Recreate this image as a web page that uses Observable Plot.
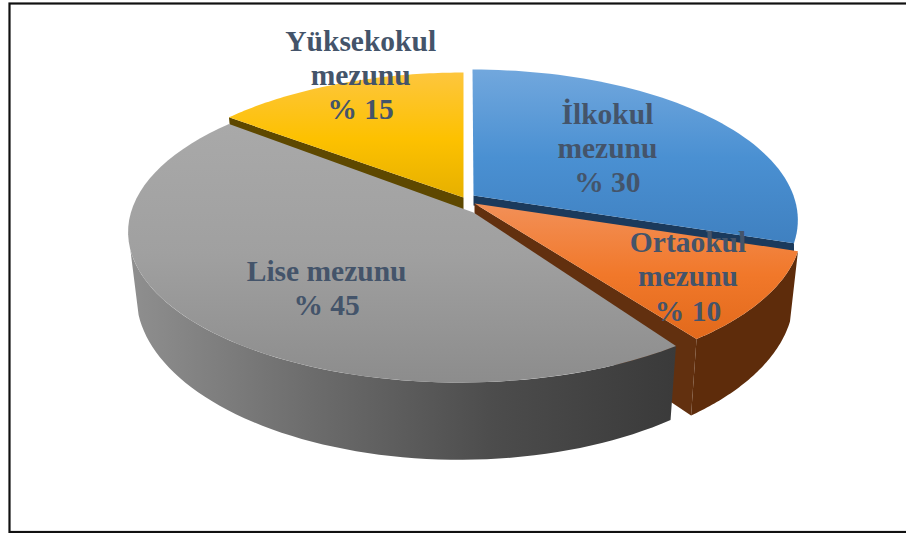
<!DOCTYPE html>
<html><head><meta charset="utf-8">
<script src="https://cdn.jsdelivr.net/npm/d3@7"></script>
<script src="https://cdn.jsdelivr.net/npm/@observablehq/plot@0.6"></script>
<style>html,body{margin:0;background:#fff}</style></head>
<body><div id="c"></div>
<script>
const categories = ["İlkokul mezunu","Ortaokul mezunu","Lise mezunu","Yüksekokul mezunu"];
const labels = ["İlkokul\nmezunu\n% 30","Ortaokul\nmezunu\n% 10","Lise mezunu\n% 45","Yüksekokul\nmezunu\n% 15"];
const shares = [30,10,45,15];

// layout of the drawing (not data)
const P = {k:0.163, A:146.5, shrinkX:0.975};
const shrinkY = [1.07,1.07,1.09,1.07];
const deg = Math.PI/180;
const arcC = [[472,195],[477,203],[459,207],[463,198]];
const apex = [[473,195],[474,203],[473,212],[463,197]];
const radius = [321,320,327,325];
const depth = [65,67,61.5,65];
const nudgeStart = [0,0,1,1.5];
const nudgeEnd = [0,-0.5,3,0];
const labelAlong = [0.48,0.52,0.449,0.622];
const labelRadius = [0.565,0.76,0.624,1.053];
const topGrad = [["#71a7dd","#4a90d2","#3f80c0"],["#f29058","#f1782a","#e0681a"],["#a9a9a9","#a0a0a0","#8c8c8c"],["#fdc63e","#fdc100","#e3ae00"]];
const gradY = [[70,245],[203,345],[122,384],[72,205]];
const cutFill = ["#1b3a5c","#62300f",null,"#5e4800"];
const wallFill = [null,"#5e2c0b","url(#wall)",null];

function pr(i,theta,r,low){
  const u=Math.sin(theta)*r, v=-Math.cos(theta)*r, w=1/(1-P.k*v);
  return low
    ? {x:arcC[i][0]+radius[i]*u*w*P.shrinkX, y:arcC[i][1]+P.A*v*w*shrinkY[i]+depth[i]}
    : {x:arcC[i][0]+radius[i]*u*w, y:arcC[i][1]+P.A*v*w};
}
const total=d3.sum(shares);
const ends=d3.cumsum(shares).map(d=>d/total*2*Math.PI);
const starts=[0,...ends.slice(0,-1)];
const arcA=starts.map((d,i)=>d+nudgeStart[i]*deg);
const arcB=ends.map((d,i)=>d+nudgeEnd[i]*deg);
const arcPts=(i,a,b,low)=>d3.range(0,61).map(j=>pr(i,a+(b-a)*j/60,1,low));
const A0=i=>({x:apex[i][0],y:apex[i][1]});
const A1=i=>({x:apex[i][0],y:apex[i][1]+depth[i]});

const faces=shares.map((_,i)=>[A0(i),...arcPts(i,arcA[i],arcB[i],false)]);
const walls=[null,
  [...arcPts(1,arcA[1],arcB[1],false),...arcPts(1,arcA[1],arcB[1],true).reverse()],
  [...arcPts(2,arcA[2],254*deg,false),...arcPts(2,arcA[2],254*deg,true).reverse()],
  null];
const cuts=[
  [A0(0),pr(0,arcB[0],1),{x:pr(0,arcB[0],1).x,y:pr(0,arcB[0],1).y+10},{x:A0(0).x,y:A0(0).y+10}],
  [A0(1),pr(1,arcB[1],1),pr(1,arcB[1],1,true),A1(1)],
  null,
  [A0(3),pr(3,arcA[3],1),pr(3,arcA[3],1,true),A1(3)]
];
const poly=(pts,fill)=>Plot.line(pts,{x:"x",y:"y",fill,stroke:"none",curve:"linear-closed"});

const defs=()=>{
  const d=d3.create("svg:defs");
  const lin=(id,x1,y1,x2,y2,stops)=>{
    const g=d.append("linearGradient").attr("id",id).attr("gradientUnits","userSpaceOnUse")
      .attr("x1",x1).attr("y1",y1).attr("x2",x2).attr("y2",y2);
    stops.forEach((c,j)=>g.append("stop").attr("offset",j/(stops.length-1)).attr("stop-color",c));
  };
  topGrad.forEach((s,i)=>lin("top"+i,0,gradY[i][0],0,gradY[i][1],s));
  lin("wall",130,0,676,0,["#8f8f8f","#6c6c6c","#4c4c4c","#3a3a3a"]);
  return d.node();
};
const order=[3,0,1,2];
const marks=[
  defs,
  Plot.frame({stroke:"#111",strokeWidth:2.2,insetLeft:9,insetTop:3,insetBottom:1.5,insetRight:-4})
];
for(const i of order){
  if(cuts[i]) marks.push(poly(cuts[i],cutFill[i]));
  if(walls[i]) marks.push(poly(walls[i],wallFill[i]));
  marks.push(poly(faces[i],"url(#top"+i+")"));
}
const labelData=labels.map((text,i)=>{
  const p=pr(i,starts[i]+(ends[i]-starts[i])*labelAlong[i],labelRadius[i]);
  return {...p,text};
});
marks.push(Plot.text(labelData,{x:"x",y:"y",text:"text",fill:"#44546a",fontSize:29.5,fontWeight:"bold",fontFamily:"Liberation Serif",lineHeight:1.16,textAnchor:"middle"}));

document.getElementById("c").append(Plot.plot({
  width:906,height:533,margin:0,
  x:{domain:[0,906],range:[0,906],axis:null},
  y:{domain:[0,533],range:[0,533],axis:null},
  style:{background:"#fff"},
  marks
}));
</script></body></html>
